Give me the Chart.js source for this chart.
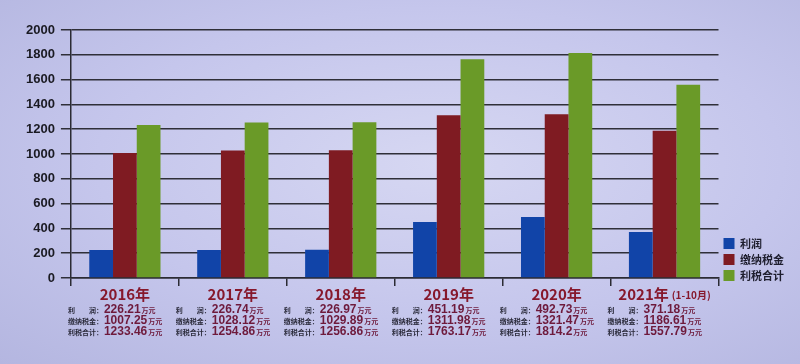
<!DOCTYPE html>
<html>
<head>
<meta charset="utf-8">
<script src="https://cdn.jsdelivr.net/npm/chart.js@4"></script>
<style>
  html, body { margin: 0; padding: 0; }
  body {
    width: 800px; height: 364px; overflow: hidden;
    background: radial-gradient(ellipse at 55% 45%, #d6d7f2 0%, #c5c6ec 55%, #b4b6e0 100%);
  }
  #wrap { position: relative; width: 800px; height: 364px; }
</style>
</head>
<body>
<div id="wrap"><canvas id="chart" width="800" height="364"></canvas></div>
<script>
// ---------------------------------------------------------
// Data
// ---------------------------------------------------------
const years = ["2016年", "2017年", "2018年", "2019年", "2020年", "2021年"];
const yearNotes = ["", "", "", "", "", "(1-10月)"];
const profit = [226.21, 226.74, 226.97, 451.19, 492.73, 371.18];
const taxPaid = [1007.25, 1028.12, 1029.89, 1311.98, 1321.47, 1186.61];
const taxTotal = [1233.46, 1254.86, 1256.86, 1763.17, 1814.2, 1557.79];
const seriesNames = ["利润", "缴纳税金", "利税合计"];
const rowLabels = ["利　　润：", "缴纳税金：", "利税合计："];
const unit = "万元";

const CJK = '"Noto Sans CJK SC", "Liberation Sans", sans-serif';
const NUM = '"Liberation Sans", Arial, sans-serif';

// ---------------------------------------------------------
// Draws the year labels and the detail lines under each group
// ---------------------------------------------------------
const detailPlugin = {
    id: "detailText",
    afterDraw(chart) {
        const ctx = chart.ctx;
        const xs = chart.scales.x;
        const bottom = chart.chartArea.bottom;
        const step = xs.width / years.length;
        const rows = [profit, taxPaid, taxTotal];

        ctx.save();
        ctx.textBaseline = "alphabetic";
        years.forEach((y, i) => {
            const cx = xs.getPixelForValue(i);
            const left = cx - step / 2 - 3;

            // year title
            ctx.font = "bold 15px " + CJK;
            const w1 = ctx.measureText(y).width;
            ctx.font = "bold 10px " + CJK;
            const w2 = yearNotes[i] ? ctx.measureText(yearNotes[i]).width + 3 : 0;
            const tx = cx - (w1 + w2) / 2;
            ctx.fillStyle = "#86182c";
            ctx.font = "bold 15px " + CJK;
            ctx.fillText(y, tx, bottom + 22);
            if (yearNotes[i]) {
                ctx.font = "bold 10px " + CJK;
                ctx.fillText(yearNotes[i], tx + w1 + 3, bottom + 21);
            }

            // detail rows
            rows.forEach((arr, r) => {
                const ly = bottom + 35 + r * 11;
                ctx.font = "bold 7px " + CJK;
                ctx.fillStyle = "#2a2a3a";
                ctx.fillText(rowLabels[r], left, ly);
                const vx = left + 36;
                ctx.font = "bold 12px " + NUM;
                ctx.fillStyle = "#6e1a3c";
                const v = String(arr[i]);
                ctx.fillText(v, vx, ly);
                const vw = ctx.measureText(v).width;
                ctx.font = "bold 7px " + CJK;
                ctx.fillText(unit, vx + vw + 1, ly);
            });
        });
        ctx.restore();
    }
};

new Chart(document.getElementById("chart"), {
    type: "bar",
    data: {
        labels: years,
        datasets: [
            { label: seriesNames[0], data: profit, backgroundColor: "#1144a8" },
            { label: seriesNames[1], data: taxPaid, backgroundColor: "#7f1b22" },
            { label: seriesNames[2], data: taxTotal, backgroundColor: "#6a9a28" }
        ]
    },
    options: {
        responsive: false,
        animation: false,
        layout: { padding: { top: 30, right: 6, bottom: 78, left: 20 } },
        datasets: { bar: { barPercentage: 1.0, categoryPercentage: 0.66 } },
        plugins: {
            legend: {
                position: "right",
                align: "end",
                labels: {
                    boxWidth: 11,
                    boxHeight: 11,
                    padding: 5,
                    color: "#1e1e2e",
                    font: { family: CJK, size: 11, weight: "bold" }
                }
            },
            tooltip: { enabled: false }
        },
        scales: {
            x: {
                grid: {
                    offset: true,
                    drawOnChartArea: false,
                    drawTicks: true,
                    tickLength: 8,
                    color: "#2b2b33",
                    lineWidth: 1.5
                },
                border: { color: "#2b2b33", width: 1.5 },
                ticks: { display: false }
            },
            y: {
                min: 0,
                max: 2000,
                ticks: {
                    stepSize: 200,
                    padding: 6,
                    color: "#1a1a22",
                    callback: (v) => String(v),
                    font: { family: NUM, size: 13, weight: "bold" }
                },
                grid: {
                    color: "#2f2f38",
                    lineWidth: 1.5,
                    tickLength: 10
                },
                border: { color: "#2b2b33", width: 1.5 }
            }
        }
    },
    plugins: [detailPlugin]
});
</script>
</body>
</html>
